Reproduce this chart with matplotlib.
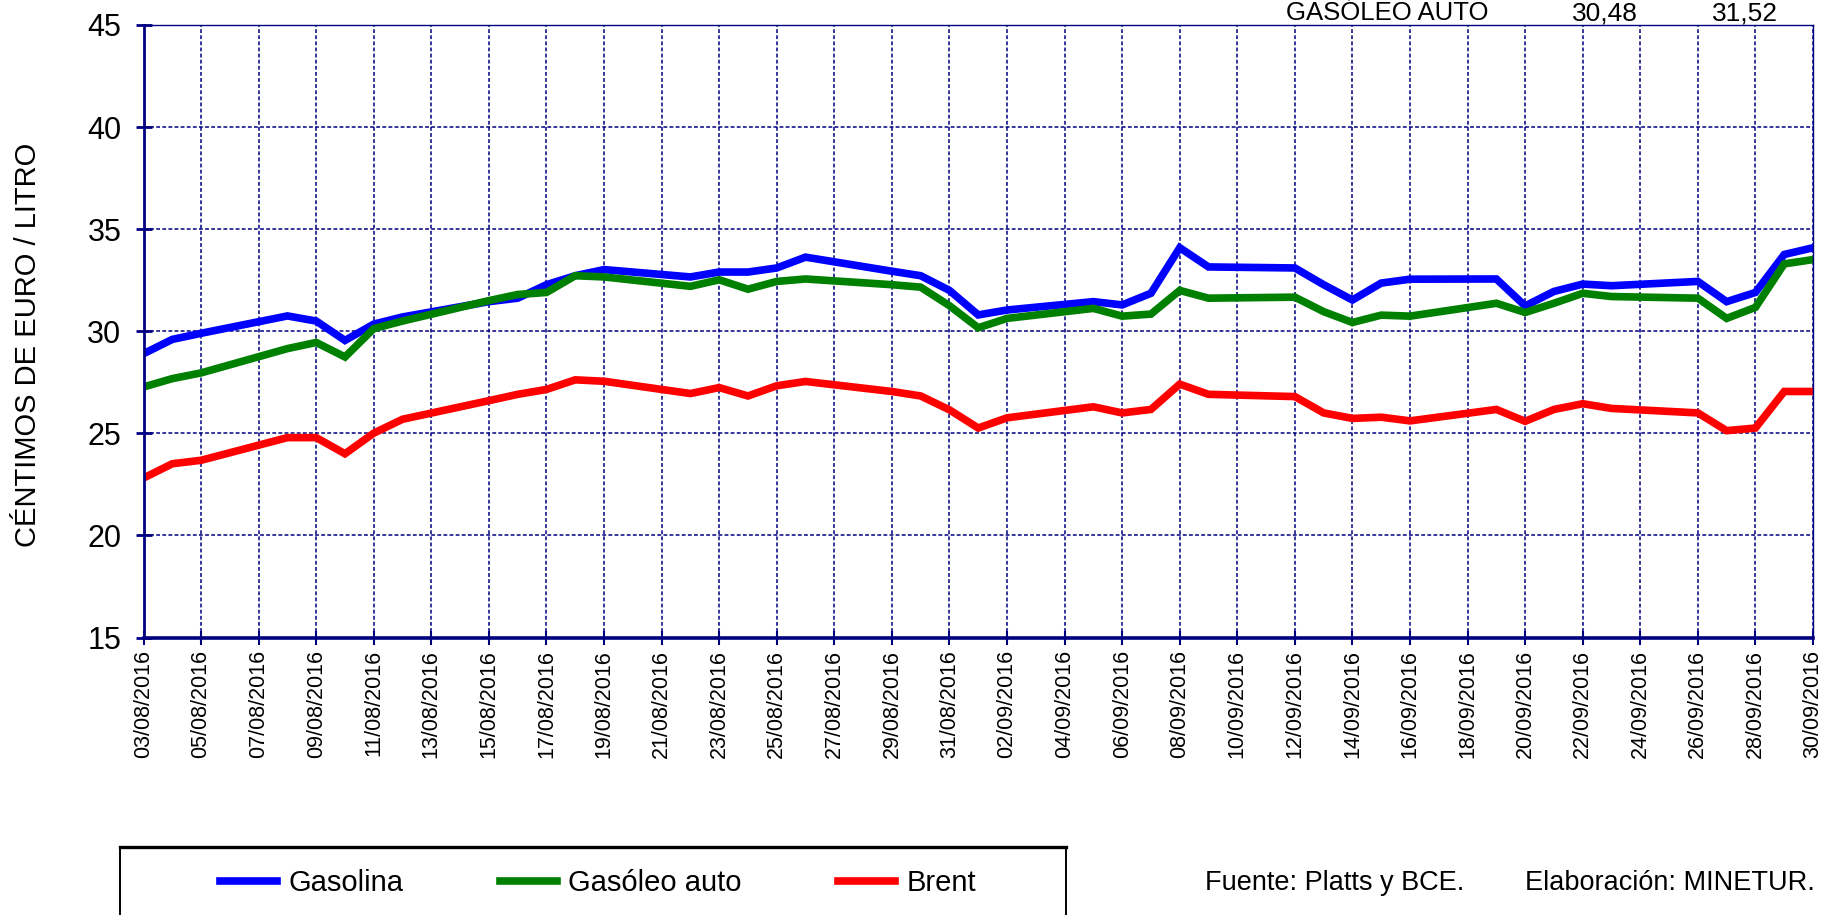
import matplotlib
matplotlib.use("Agg")
import matplotlib.pyplot as plt
import matplotlib.dates as mdates
from matplotlib.lines import Line2D
from matplotlib.patches import Rectangle
import pandas as pd

plt.rcParams["font.family"] = ["Liberation Sans", "DejaVu Sans"]

# business days with quotes, 03/08/2016 .. 30/09/2016
dates = [
    "2016-08-03", "2016-08-04", "2016-08-05", "2016-08-08", "2016-08-09", "2016-08-10",
    "2016-08-11", "2016-08-12", "2016-08-15", "2016-08-16", "2016-08-17", "2016-08-18",
    "2016-08-19", "2016-08-22", "2016-08-23", "2016-08-24", "2016-08-25", "2016-08-26",
    "2016-08-29", "2016-08-30", "2016-08-31", "2016-09-01", "2016-09-02", "2016-09-05",
    "2016-09-06", "2016-09-07", "2016-09-08", "2016-09-09", "2016-09-12", "2016-09-13",
    "2016-09-14", "2016-09-15", "2016-09-16", "2016-09-19", "2016-09-20", "2016-09-21",
    "2016-09-22", "2016-09-23", "2016-09-26", "2016-09-27", "2016-09-28", "2016-09-29",
    "2016-09-30",
]

gasolina = [
    28.90, 29.60, 29.90, 30.75, 30.50, 29.55, 30.35, 30.70, 31.45, 31.62, 32.28, 32.72,
    33.02, 32.66, 32.90, 32.90, 33.10, 33.63, 32.94, 32.72, 32.00, 30.80, 31.04, 31.45,
    31.29, 31.86, 34.09, 33.15, 33.10, 32.28, 31.53, 32.36, 32.55, 32.56, 31.24, 31.95,
    32.31, 32.23, 32.44, 31.45, 31.90, 33.76, 34.09,
]
gasoleo = [
    27.27, 27.68, 27.96, 29.15, 29.45, 28.74, 30.13, 30.50, 31.50, 31.80, 31.90, 32.72,
    32.66, 32.20, 32.52, 32.06, 32.44, 32.56, 32.28, 32.16, 31.25, 30.17, 30.63, 31.12,
    30.74, 30.84, 32.00, 31.62, 31.67, 30.96, 30.43, 30.79, 30.74, 31.37, 30.92, 31.37,
    31.86, 31.70, 31.62, 30.63, 31.17, 33.30, 33.51,
]
brent = [
    22.81, 23.51, 23.68, 24.79, 24.79, 24.00, 25.01, 25.69, 26.60, 26.91, 27.15, 27.62,
    27.55, 26.95, 27.24, 26.83, 27.33, 27.54, 27.05, 26.83, 26.15, 25.26, 25.76, 26.30,
    26.00, 26.17, 27.41, 26.91, 26.80, 26.00, 25.73, 25.79, 25.61, 26.17, 25.59, 26.17,
    26.45, 26.22, 26.00, 25.13, 25.26, 27.05, 27.05,
]

series_names = ["Gasolina", "Gasóleo auto", "Brent"]
series_colors = ["#0000FF", "#008000", "#FF0000"]

W, H = 1826, 915
navy = "#000080"

x = pd.to_datetime(dates)
ticks = pd.date_range("2016-08-03", "2016-09-30", freq="2D")

fig = plt.figure(figsize=(W / 100, H / 100), dpi=100)
ax = fig.add_axes([143.5 / W, 1 - 637.5 / H, (1813 - 143.5) / W, (637.5 - 25) / H])

lines = []
for vals, name, col in zip([gasolina, gasoleo, brent], series_names, series_colors):
    ln, = ax.plot(x, vals, color=col, lw=5.5, label=name, solid_joinstyle="miter")
    lines.append(ln)

ax.set_xlim(x[0], x[-1])
ax.set_ylim(15, 45)
ax.set_yticks(range(15, 50, 5))
ax.set_xticks(ticks)
ax.xaxis.set_major_formatter(mdates.DateFormatter("%d/%m/%Y"))
ax.tick_params(axis="x", labelrotation=90, labelsize=15.5, direction="inout",
               length=10, width=1.5, color=navy, pad=4)
ax.tick_params(axis="y", labelsize=22, direction="inout", length=12,
               width=2, color=navy, pad=10)

ax.grid(True, color=navy, linestyle=(0, (2.5, 1.5)), lw=1.1)
ax.set_axisbelow(True)
for side in ["top", "right"]:
    ax.spines[side].set_color(navy)
    ax.spines[side].set_linewidth(1.0)
ax.spines["left"].set_color(navy)
ax.spines["left"].set_linewidth(2.0)
ax.spines["bottom"].set_color(navy)
ax.spines["bottom"].set_linewidth(2.6)

fig.text(28 / W, 1 - 345 / H, "CÉNTIMOS DE EURO / LITRO", rotation=90,
         ha="center", va="center", fontsize=21)

# table fragment at top right (kept fully inside the canvas)
fig.text(1286 / W, 1 - 20 / H, "GASÓLEO AUTO", ha="left", va="baseline", fontsize=18.5)
fig.text(1605 / W, 1 - 20 / H, "30,48", ha="center", va="baseline", fontsize=19)
fig.text(1745 / W, 1 - 20 / H, "31,52", ha="center", va="baseline", fontsize=19)

# legend box
fig.add_artist(Rectangle((120 / W, -0.05), (1066 - 120) / W, (915 - 847) / H + 0.05,
                         transform=fig.transFigure, fill=False, edgecolor="black", lw=1.4))
fig.add_artist(Line2D([120 / W, 1066 / W], [1 - 847 / H] * 2,
                      transform=fig.transFigure, color="black", lw=2.4))
fig.legend(handles=lines, loc="center", bbox_to_anchor=(598 / W, 1 - 883 / H), ncol=3,
           frameon=False, fontsize=21, handlelength=1.95, handletextpad=0.4,
           columnspacing=3.3)

fig.text(1205 / W, 1 - 883 / H, "Fuente: Platts y BCE.", ha="left", va="center",
         fontsize=19.5)
fig.text(1815 / W, 1 - 883 / H, "Elaboración: MINETUR.", ha="right", va="center",
         fontsize=19.5)

fig.savefig("out.png", dpi=100)
